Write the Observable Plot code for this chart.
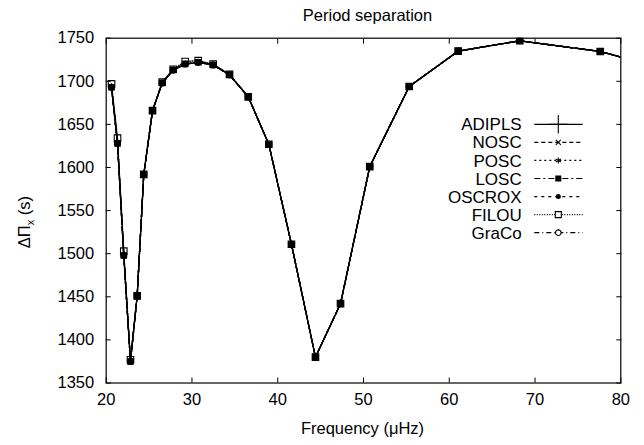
<!DOCTYPE html>
<html><head><meta charset="utf-8">
<script src="https://cdn.jsdelivr.net/npm/d3@7"></script>
<script src="https://cdn.jsdelivr.net/npm/@observablehq/plot@0.6"></script>
<style>
body{margin:0;background:#fff;}
#chart svg{font-family:"Liberation Sans", Arial, sans-serif; background:#fff;}
</style></head><body><div id="chart"></div>
<script>
const titleText = "Period separation";
const xLabel = "Frequency (\u03bcHz)";
const xTicks = [20, 30, 40, 50, 60, 70, 80];
const yTicks = [1350, 1400, 1450, 1500, 1550, 1600, 1650, 1700, 1750];

// frequencies (μHz) of the modes
const freq = [20.62, 21.32, 22.05, 22.83, 23.61, 24.38, 25.40, 26.53, 27.81, 29.21, 30.73, 32.47, 34.38, 36.56, 38.96, 41.60, 44.40, 47.32, 50.73, 55.33, 61.04, 68.22, 77.60, 88.5];
// ΔΠ (s) per code (all codes practically coincide)
const adipls = [1693, 1628, 1498, 1375, 1451, 1592, 1666, 1698, 1713, 1720, 1722, 1719, 1707.5, 1682, 1627, 1511, 1380, 1442, 1601, 1694, 1735, 1747, 1734.6, 1705];
const nosc   = [1693, 1628, 1498, 1375, 1451, 1592, 1666, 1698, 1713, 1720, 1722, 1719, 1707.5, 1682, 1627, 1511, 1380, 1442, 1601, 1694, 1735, 1747, 1734.6, 1705];
const posc   = [1693, 1628, 1498, 1375, 1451, 1592, 1666, 1698, 1713, 1720, 1722, 1719, 1707.5, 1682, 1627, 1511, 1380, 1442, 1601, 1694, 1735, 1747, 1734.6, 1705];
const losc   = [1693, 1628, 1498, 1375, 1451, 1592, 1666, 1698, 1713, 1720, 1722, 1719, 1707.5, 1682, 1627, 1511, 1380, 1442, 1601, 1694, 1735, 1747, 1734.6, 1705];
const oscrox = [1693, 1628, 1498, 1375, 1451, 1592, 1666, 1698, 1713, 1720, 1722, 1719, 1707.5, 1682, 1627, 1511, 1380, 1442, 1601, 1694, 1735, 1747, 1734.6, 1705];
const filou  = [1697, 1634, 1503, 1377, 1451, 1592, 1666, 1699, 1714, 1723, 1724, 1720, 1708, 1682, 1627, 1511, 1380, 1442, 1601, 1694, 1735, 1747, 1734.6, 1705];
const graco  = [1693, 1628, 1498, 1375, 1451, 1592, 1666, 1698, 1713, 1720, 1722, 1719, 1707.5, 1682, 1627, 1511, 1380, 1442, 1601, 1694, 1735, 1747, 1734.6, 1705];

const seriesNames = ["ADIPLS", "NOSC", "POSC", "LOSC", "OSCROX", "FILOU", "GraCo"];
const seriesValues = [adipls, nosc, posc, losc, oscrox, filou, graco];
const dashes = [null, "4,3", "2,3", "6,3,2,3", "3,4", "1,1.5", "5,3,1,3"];
const symbols = ["plus", "times", "asterisk", "square", "circle", "square", "circle"];
const filled = [false, false, false, true, true, false, false];
const radii = [1.6, 2.0, 2.0, 3.7, 2.8, 3.7, 3.0];
const legendRadii = [6, 2.4, 2.8, 3.4, 2.5, 3.4, 2.8];

const series = seriesNames.map((name, i) => ({
  name, dash: dashes[i], symbol: symbols[i], filled: filled[i], r: radii[i], lr: legendRadii[i],
  data: freq.map((f, j) => ({f, v: seriesValues[i][j]}))
}));

const marks = [];
for (const s of series) {
  marks.push(Plot.line(s.data, {x: "f", y: "v", stroke: "black", strokeWidth: 1.3, strokeDasharray: s.dash, clip: true}));
  marks.push(Plot.dot(s.data, {x: "f", y: "v", symbol: s.symbol, r: s.r,
    fill: s.filled ? "black" : "none", stroke: s.filled ? "none" : "black", strokeWidth: 1.1, clip: true}));
}

const fs = "16.5px";
const plot = Plot.plot({
  width: 644, height: 445,
  marginLeft: 105.7, marginRight: 23.7, marginTop: 37.7, marginBottom: 62.5,
  style: {fontSize: fs, fontFamily: '"Liberation Sans", Arial, sans-serif', color: "black", background: "white"},
  x: {domain: [20, 80]},
  y: {domain: [1350, 1750]},
  marks: [
    ...marks,
    Plot.frame({stroke: "black", strokeWidth: 1.2}),
    Plot.axisX({ticks: xTicks, tickSize: 0, tickPadding: 10, tickFormat: "d", label: null, fontSize: fs}),
    Plot.axisX({ticks: xTicks, anchor: "bottom", tickSize: -5, tickFormat: () => "", label: null}),
    Plot.axisX({ticks: xTicks, anchor: "top", tickSize: -5, tickFormat: () => "", label: null}),
    Plot.axisY({ticks: yTicks, tickSize: 0, tickPadding: 12, tickFormat: "d", label: null, fontSize: fs}),
    Plot.axisY({ticks: yTicks, anchor: "left", tickSize: -5, tickFormat: () => "", label: null}),
    Plot.axisY({ticks: yTicks, anchor: "right", tickSize: -5, tickFormat: () => "", label: null}),
    Plot.text([titleText], {frameAnchor: "top", dy: -29, dx: 4, fontSize: fs, fill: "black"}),
    Plot.text([xLabel], {frameAnchor: "bottom", dy: 51, dx: -1, fontSize: fs, fill: "black"})
  ]
});

document.getElementById("chart").appendChild(plot);

// y-axis label with subscript, and in-frame legend
const svg = d3.select(plot);
const xs = plot.scale("x"), ys = plot.scale("y");
const frameL = xs.range[0], frameR = xs.range[1], frameT = ys.range[1], frameB = ys.range[0];
const yl = svg.append("text")
  .attr("transform", `translate(${frameL - 76},${(frameB + frameT) / 2 + 12}) rotate(-90)`)
  .attr("text-anchor", "middle").attr("font-size", fs).attr("fill", "black");
yl.append("tspan").text("\u0394\u03a0");
yl.append("tspan").attr("font-size", "11px").attr("dy", "4").text("x");
yl.append("tspan").attr("dy", "-4").text(" (s)");

const symMap = {plus: d3.symbolPlus, times: d3.symbolTimes, asterisk: d3.symbolAsterisk, square: d3.symbolSquare, circle: d3.symbolCircle};
const lg = svg.append("g");
series.forEach((s, i) => {
  const y = frameT + 86.6 + i * 18.07;
  lg.append("text").attr("x", frameR - 98.6).attr("y", y).attr("dy", "0.36em")
    .attr("text-anchor", "end").attr("font-size", "17px").attr("fill", "black").text(s.name);
  lg.append("line").attr("x1", frameR - 86).attr("x2", frameR - 37.6).attr("y1", y).attr("y2", y)
    .attr("stroke", "black").attr("stroke-width", 1.2).attr("stroke-dasharray", s.dash);
  lg.append("path").attr("transform", `translate(${frameR - 62},${y})`)
    .attr("d", d3.symbol(symMap[s.symbol], Math.PI * s.lr * s.lr)())
    .attr("fill", s.filled ? "black" : (s.symbol === "square" || s.symbol === "circle" ? "white" : "none"))
    .attr("stroke", s.filled ? "none" : "black").attr("stroke-width", 1.1);
});
</script></body></html>
